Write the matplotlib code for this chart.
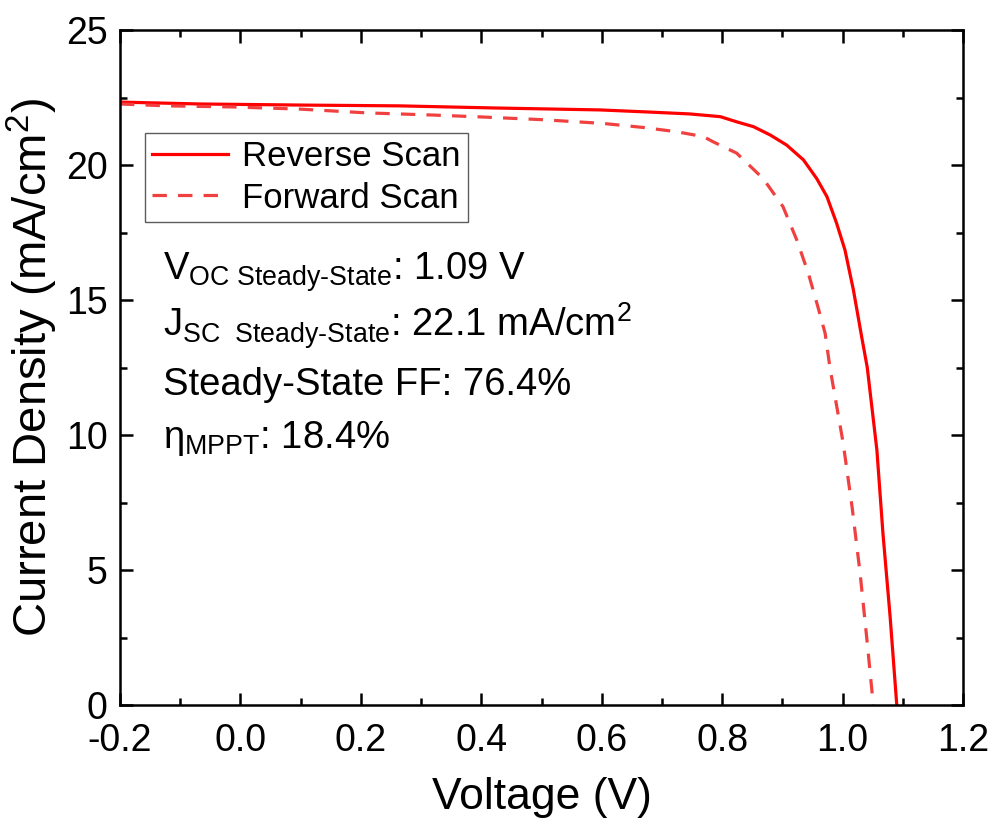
import matplotlib
matplotlib.use("Agg")
import matplotlib.pyplot as plt
from matplotlib.ticker import MultipleLocator

plt.rcParams['font.family'] = ['Liberation Sans', 'DejaVu Sans']
plt.rcParams['mathtext.fontset'] = 'custom'
plt.rcParams['mathtext.rm'] = 'Liberation Sans'
plt.rcParams['mathtext.it'] = 'Liberation Sans'

# Reverse scan (V, J)
rev_v = [-0.2, -0.067, 0.099, 0.265, 0.426, 0.597, 0.680, 0.747, 0.797, 0.824, 0.852, 0.880,
         0.907, 0.935, 0.957, 0.974, 0.990, 1.004, 1.018, 1.032, 1.041, 1.057, 1.067, 1.079, 1.090]
rev_j = [22.33, 22.26, 22.22, 22.19, 22.11, 22.04, 21.96, 21.89, 21.79, 21.6, 21.42, 21.11,
         20.74, 20.19, 19.5, 18.83, 17.85, 16.85, 15.37, 13.6, 12.5, 9.44, 6.37, 3.26, 0.0]

# Forward scan (V, J)
fwd_v = [-0.2, -0.122, -0.012, 0.099, 0.21, 0.32, 0.40, 0.50, 0.602, 0.669, 0.725, 0.769, 0.785,
         0.824, 0.868, 0.901, 0.924, 0.943, 0.959, 0.971, 0.979, 1.001, 1.016, 1.029, 1.041, 1.051]
fwd_j = [22.26, 22.19, 22.15, 22.07, 21.93, 21.85, 21.78, 21.68, 21.54, 21.39, 21.23, 21.05, 20.86,
         20.44, 19.5, 18.46, 17.22, 16.0, 14.75, 13.77, 12.5, 9.7, 7.3, 4.9, 2.3, 0.0]

x_ticks = [-0.2, 0.0, 0.2, 0.4, 0.6, 0.8, 1.0, 1.2]
x_ticklabels = ["-0.2", "0.0", "0.2", "0.4", "0.6", "0.8", "1.0", "1.2"]

annotations = [
    r"V$_{\mathrm{OC\ Steady\text{-}State}}$: 1.09 V",
    r"J$_{\mathrm{SC\ \ Steady\text{-}State}}$: 22.1 mA/cm$^{2}$",
    "Steady-State FF: 76.4%",
    r"$\eta_{\mathrm{MPPT}}$: 18.4%",
]

fig = plt.figure(figsize=(9.93, 8.24), dpi=100)
ax = fig.add_axes([120/993, 1-705/824, (963-120)/993, (705-30)/824])

ax.plot(rev_v, rev_j, color='#FF0000', lw=2.3, label='Reverse Scan')
ax.plot(fwd_v, fwd_j, color='#F04040', lw=2.3, dashes=(4.5, 3.5), label='Forward Scan')

ax.set_xlim(-0.2, 1.2)
ax.set_ylim(0, 25)
ax.set_xticks(x_ticks)
ax.set_xticklabels(x_ticklabels)
ax.xaxis.set_minor_locator(MultipleLocator(0.1))
ax.yaxis.set_major_locator(MultipleLocator(5))
ax.yaxis.set_minor_locator(MultipleLocator(2.5))

for s in ax.spines.values():
    s.set_linewidth(1.8)
ax.tick_params(which='both', direction='in', top=True, right=True, width=1.8)
ax.tick_params(which='major', length=9, labelsize=27)
ax.tick_params(axis='x', which='major', pad=13)
ax.tick_params(axis='y', which='major', pad=9)
ax.tick_params(which='minor', length=5)

ax.set_xlabel("Voltage (V)", fontsize=32, labelpad=13)
ax.set_ylabel("Current Density (mA/cm$^{2}$)", fontsize=34, labelpad=4)

leg = ax.legend(loc='upper left', fontsize=25,
                frameon=True, fancybox=False, handlelength=2.2, handletextpad=0.4,
                borderpad=0.2, labelspacing=0.25, borderaxespad=0)
leg.get_frame().set_edgecolor('#333333')
leg.get_frame().set_linewidth(1.0)
leg.set_bbox_to_anchor(((145-120)/843, (705-133)/675), transform=ax.transAxes)

ys = [272, 326, 385, 438]
for txt, yp in zip(annotations, ys):
    ax.text((163-120)/843, (705-yp)/675, txt, transform=ax.transAxes,
            fontsize=27.5, va='center', ha='left')

fig.savefig("out.png", dpi=100)
